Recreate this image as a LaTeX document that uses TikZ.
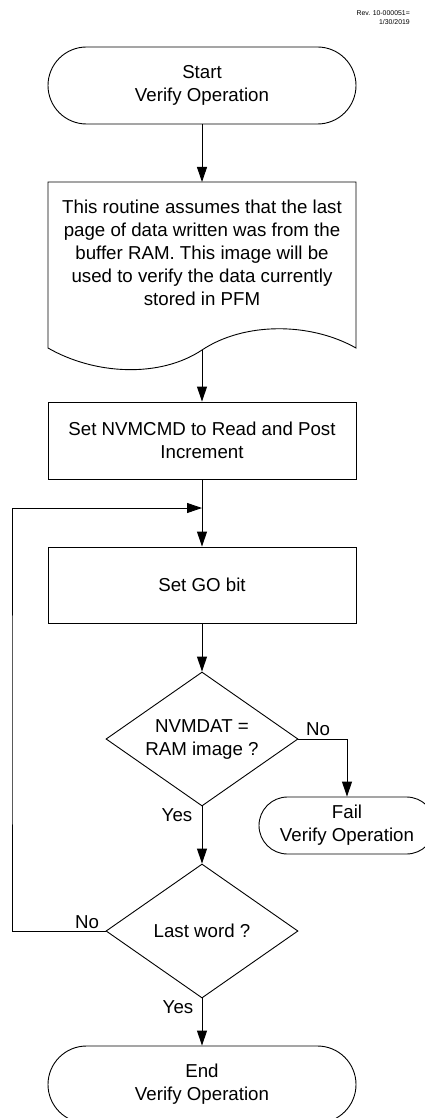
\documentclass[tikz,border=0pt]{standalone}
\usepackage{fontspec}
\setmainfont{Liberation Sans}
\usetikzlibrary{arrows.meta,shapes.geometric}
\begin{document}
\begin{tikzpicture}[x=1pt,y=-1pt,
  every node/.style={font=\fontsize{18.7}{23}\selectfont, inner sep=0pt, align=center},
  term/.style={draw, line width=0.9pt, rounded corners=38.5pt, minimum width=308pt, minimum height=77pt},
  smallterm/.style={draw, line width=0.9pt, rounded corners=28.5pt, minimum width=176pt, minimum height=57pt},
  procbox/.style={draw, line width=0.9pt, minimum width=308pt, minimum height=77pt},
  decision/.style={draw, line width=0.9pt, diamond, aspect=1.43, minimum width=192pt, minimum height=134pt},
  arr/.style={line width=0.9pt, -{Triangle[length=15pt,width=10pt]}},
  lbl/.style={font=\fontsize{18.7}{23}\selectfont}
]
\useasboundingbox (0,0) rectangle (425,1118);
\clip (0,0) rectangle (425,1118);

% revision note
\node[anchor=north east, align=right, font=\fontsize{6.9}{9.3}\selectfont] (rev) at (410,10) {Rev. 10-000051=\\1/30/2019};

% start
\node[term] (start) at (202,85.5) {Start\\Verify Operation};

% document shape
\coordinate (doctop) at (202,182);
\coordinate (docbot) at (202,350);
\draw[line width=0.9pt] (48,182) -- (356,182) -- (356,348)
  .. controls (310,322) and (244,322) .. (docbot)
  .. controls (160,378) and (95,375) .. (48,348) -- cycle;
\node (doc) at (202,253) {This routine assumes that the last\\page of data written was from the\\buffer RAM. This image will be\\used to verify the data currently\\stored in PFM};

% process boxes
\node[procbox] (nvm) at (202,440.5) {Set NVMCMD to Read and Post\\Increment};
\coordinate (join) at (202,508);
\node[procbox, minimum height=76pt] (go) at (202,585) {Set GO bit};

% decisions
\node[decision] (d1) at (202,739) {NVMDAT =\\RAM image ?};
\node[smallterm] (fail) at (347,825.5) {Fail\\Verify Operation};
\node[decision] (d2) at (202,931) {Last word ?};

% end
\node[term] (end) at (202,1084.5) {End\\Verify Operation};

% connectors
\draw[arr] (start.south) -- (doctop);
\draw[arr] (docbot) -- (nvm.north);
\draw[arr] (nvm.south) -- (go.north);
\coordinate (loopx) at (12,720);
\draw[arr] (d2.west) -| (loopx) |- (join);
\draw[arr] (go.south) -- (d1.north);
\draw[arr] (d1.east) -| (fail.north);
\draw[arr] (d1.south) -- (d2.north);
\draw[arr] (d2.south) -- (end.north);

% labels
\node[lbl] (no1) at (318,729) {No};
\node[lbl] (yes1) at (177,815) {Yes};
\node[lbl] (no2) at (87,922) {No};
\node[lbl] (yes2) at (178,1007) {Yes};
\end{tikzpicture}
\end{document}
